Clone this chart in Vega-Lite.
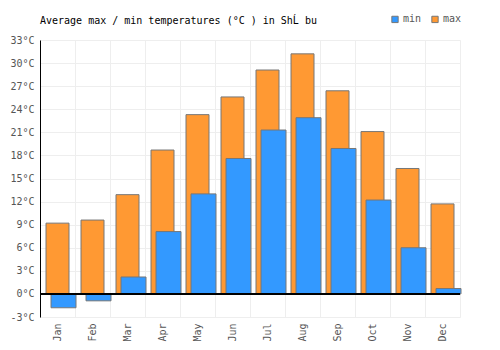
{
  "$schema": "https://vega.github.io/schema/vega-lite/v6.json",
  "width": 420,
  "height": 277,
  "autosize": {"type": "none"},
  "padding": {"left": 40, "top": 40, "right": 40, "bottom": 33},
  "background": "white",
  "config": {
    "font": "DejaVu Sans Mono",
    "view": {"stroke": "#eeeeee"},
    "axis": {"labelFont": "DejaVu Sans Mono", "labelFontSize": 10, "labelColor": "#555555", "gridColor": "#eeeeee", "gridWidth": 1, "ticks": false, "title": null, "labelOverlap": false},
    "legend": {"labelFont": "DejaVu Sans Mono", "labelFontSize": 10, "labelColor": "#555555"}
  },
  "title": {"text": "Average max / min temperatures (°C ) in ShĹ bu", "anchor": "start", "frame": "group", "fontSize": 10, "fontWeight": "normal", "font": "DejaVu Sans Mono", "color": "#000000", "offset": -12},
  "data": {"values": [
    {"month": "Jan", "min": -1.8, "max": 9.2},
    {"month": "Feb", "min": -0.9, "max": 9.6},
    {"month": "Mar", "min": 2.2, "max": 12.9},
    {"month": "Apr", "min": 8.1, "max": 18.7},
    {"month": "May", "min": 13.0, "max": 23.3},
    {"month": "Jun", "min": 17.6, "max": 25.6},
    {"month": "Jul", "min": 21.3, "max": 29.1},
    {"month": "Aug", "min": 22.9, "max": 31.2},
    {"month": "Sep", "min": 18.9, "max": 26.4},
    {"month": "Oct", "min": 12.2, "max": 21.1},
    {"month": "Nov", "min": 6.0, "max": 16.3},
    {"month": "Dec", "min": 0.7, "max": 11.7}
  ]},
  "layer": [
    {
      "mark": {"type": "bar", "width": 23, "stroke": "#777777", "strokeWidth": 1},
      "encoding": {
        "x": {"field": "month", "type": "ordinal", "sort": null,
          "scale": {"paddingInner": 0, "paddingOuter": 0},
          "axis": {"labelAngle": 270, "bandPosition": 0, "grid": true, "domain": false, "labelPadding": 6}},
        "y": {"field": "max", "type": "quantitative",
          "scale": {"domain": [-3, 33], "nice": false},
          "axis": {"values": [-3, 0, 3, 6, 9, 12, 15, 18, 21, 24, 27, 30, 33], "tickCount": 13, "labelExpr": "datum.value + '°C'", "domain": true, "domainColor": "#000000", "labelPadding": 6, "labelOverlap": false}},
        "color": {"datum": "max", "type": "nominal",
          "scale": {"domain": ["min", "max"], "range": ["#3399ff", "#ff9933"]},
          "legend": {"title": null, "orient": "none", "legendX": 350, "legendY": -26, "direction": "horizontal", "symbolType": "square", "symbolSize": 40, "symbolStrokeColor": "#777777", "symbolStrokeWidth": 1, "labelOffset": 3, "columnPadding": 7}}
      }
    },
    {
      "mark": {"type": "bar", "width": 25, "xOffset": 6, "stroke": "#777777", "strokeWidth": 1},
      "encoding": {
        "x": {"field": "month", "type": "ordinal", "sort": null},
        "y": {"field": "min", "type": "quantitative"},
        "color": {"datum": "min", "type": "nominal"}
      }
    },
    {
      "mark": {"type": "rule", "color": "#000000", "strokeWidth": 1},
      "encoding": {"y": {"datum": 0}}
    }
  ]
}
